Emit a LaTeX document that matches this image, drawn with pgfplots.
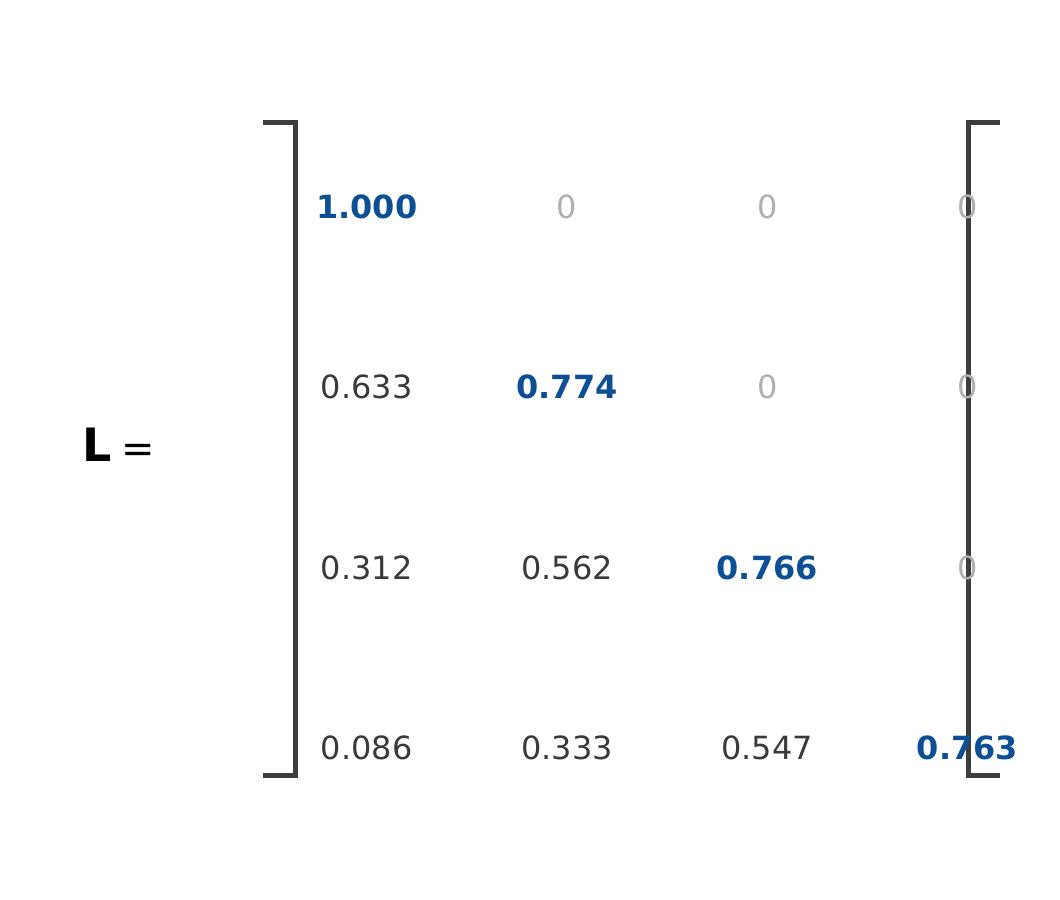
\documentclass[border=0pt]{standalone}
\usepackage{fontspec}
\setmainfont{DejaVu Sans}
\usepackage{pgfplots}
\pgfplotsset{compat=1.18}
\definecolor{diagblue}{HTML}{0D4F94}
\definecolor{darktxt}{HTML}{3A3A3A}
\definecolor{zerogray}{HTML}{B0B0B0}
\definecolor{brk}{HTML}{3D3D3D}
\begin{document}
\begin{tikzpicture}
\begin{axis}[
  width=795pt, height=674.25pt, scale only axis,
  xmin=0, xmax=1060, ymin=0, ymax=899, y dir=reverse,
  hide axis, clip=false,
  point meta=explicit symbolic,
  nodes near coords={\pgfplotspointmeta},
  every node near coord/.append style={anchor=center, inner sep=0pt, font=\fontsize{24}{28}\selectfont},
]
% invisible corners to fix the bounding box
\addplot[draw=none, mark=none, nodes near coords={}] coordinates {(0,0) (1060,899)};
% diagonal entries
\addplot[only marks, mark=none, every node near coord/.append style={text=diagblue, font=\fontsize{24}{28}\selectfont\bfseries}]
  table[meta=label] {
x y label
366.5 206 1.000
567 387 0.774
767.5 567.5 0.766
968 748 0.763
};
% off-diagonal non-zero entries
\addplot[only marks, mark=none, every node near coord/.append style={text=darktxt}]
  table[meta=label] {
x y label
366.5 387 0.633
366.5 567.5 0.312
567 567.5 0.562
366.5 748 0.086
567 748 0.333
767.5 748 0.547
};
% zeros
\addplot[only marks, mark=none, every node near coord/.append style={text=zerogray}]
  table[meta=label] {
x y label
567 206 0
767.5 206 0
968 206 0
767.5 387 0
968 387 0
968 567.5 0
};
% L =
\addplot[only marks, mark=none, every node near coord/.append style={text=black, font=\fontsize{34.5}{40}\selectfont\bfseries}]
  coordinates {(96.5,445) [L]};
\addplot[only marks, mark=none, every node near coord/.append style={text=black, anchor=base, font=\fontsize{30}{36}\selectfont}]
  coordinates {(137.5,462) [=]};
% brackets
\addplot[brk, line width=3.5pt, no marks, line join=miter, nodes near coords={}] coordinates {(263,122) (295,122) (295,776) (263,776)};
\addplot[brk, line width=3.5pt, no marks, line join=miter, nodes near coords={}] coordinates {(1001,122) (969,122) (969,776) (1001,776)};
\end{axis}
\end{tikzpicture}
\end{document}
